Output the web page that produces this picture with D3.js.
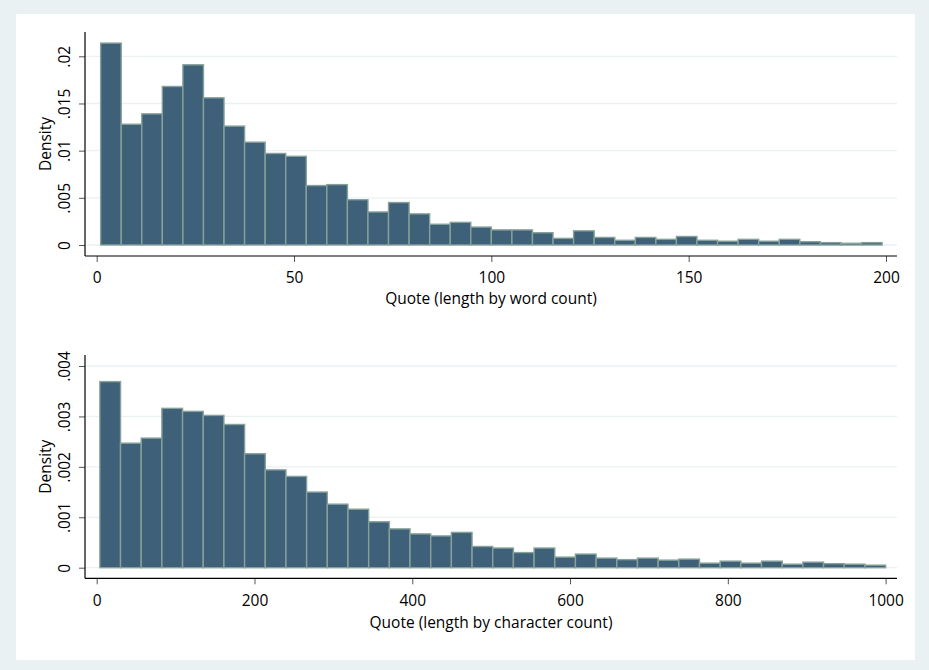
<!DOCTYPE html>
<html>
<head>
<meta charset="utf-8">
<script src="https://cdn.jsdelivr.net/npm/d3@7"></script>
<style>
  html, body { margin: 0; padding: 0; background: #eaf1f3; }
  svg { display: block; }
  text { font-family: "Open Sans", "Noto Sans", sans-serif; fill: #000; }
</style>
</head>
<body>
<svg id="chart" width="929" height="670"></svg>
<script>
// Histogram of quote length by word count (38 bins from 1 to 199)
const wordBinStart = 1;
const wordBinEnd = 199;
const wordDensity = [
  0.0214, 0.0128, 0.0139, 0.0168, 0.0191, 0.0156, 0.0126, 0.0109, 0.0097, 0.0094,
  0.0063, 0.0064, 0.0048, 0.0035, 0.0045, 0.0033, 0.0022, 0.0024, 0.0019, 0.0016,
  0.0016, 0.0013, 0.0007, 0.0015, 0.0008, 0.0005, 0.0008, 0.0006, 0.0009, 0.0005,
  0.0004, 0.0006, 0.0004, 0.0006, 0.00035, 0.00025, 0.00018, 0.00025
];
const wordXTicks = [0, 50, 100, 150, 200];
const wordYTicks = [0, 0.005, 0.01, 0.015, 0.02];
const wordYLabels = ["0", ".005", ".01", ".015", ".02"];

// Histogram of quote length by character count (38 bins from 4 to 1000)
const charBinStart = 4;
const charBinEnd = 1000;
const charDensity = [
  0.00369, 0.00247, 0.00257, 0.00316, 0.00310, 0.00302, 0.00284, 0.00226, 0.00194, 0.00181,
  0.00150, 0.00126, 0.00116, 0.00091, 0.00077, 0.00067, 0.00063, 0.00070, 0.00042, 0.00039,
  0.00030, 0.00039, 0.00021, 0.00027, 0.00019, 0.00016, 0.00019, 0.00015, 0.00017, 0.00009,
  0.00013, 0.00009, 0.00013, 0.00007, 0.00011, 0.00008, 0.00007, 0.00005
];
const charXTicks = [0, 200, 400, 600, 800, 1000];
const charYTicks = [0, 0.001, 0.002, 0.003, 0.004];
const charYLabels = ["0", ".001", ".002", ".003", ".004"];

const FONT_SIZE = 15.5;
const svg = d3.select("#chart");

// white graph region
svg.append("rect")
  .attr("x", 16).attr("y", 14)
  .attr("width", 899).attr("height", 646)
  .attr("fill", "#ffffff");

function drawHistogram(cfg) {
  const g = svg.append("g");
  const x = d3.scaleLinear().domain(cfg.xDomain).range(cfg.xRange);
  const y = d3.scaleLinear().domain(cfg.yDomain).range(cfg.yRange);

  const n = cfg.values.length;
  const width = (cfg.binEnd - cfg.binStart) / n;
  const bins = cfg.values.map((v, i) => ({
    x0: cfg.binStart + i * width,
    x1: cfg.binStart + (i + 1) * width,
    v
  }));

  // horizontal gridlines
  g.append("g").selectAll("line")
    .data(cfg.yTicks)
    .join("line")
    .attr("x1", cfg.axisLeft + 1).attr("x2", cfg.axisRight)
    .attr("y1", d => y(d)).attr("y2", d => y(d))
    .attr("stroke", "#eaf1f3").attr("stroke-width", 1.3);

  // bars
  g.append("g").selectAll("rect")
    .data(bins)
    .join("rect")
    .attr("x", d => x(d.x0))
    .attr("width", d => x(d.x1) - x(d.x0))
    .attr("y", d => y(d.v))
    .attr("height", d => y(0) - y(d.v))
    .attr("fill", "#3f6079")
    .attr("stroke", "#86a199")
    .attr("stroke-width", 1.4);

  // y axis
  const yAxis = d3.axisLeft(y)
    .tickValues(cfg.yTicks)
    .tickFormat((d, i) => cfg.yLabels[i])
    .tickSize(6)
    .tickPadding(0);
  const ya = g.append("g")
    .attr("transform", `translate(${cfg.axisLeft},0)`)
    .call(yAxis);
  ya.select(".domain").remove();
  ya.selectAll(".tick line").attr("stroke", "#555").attr("stroke-width", 1);
  ya.selectAll(".tick text")
    .attr("x", null).attr("dy", null)
    .attr("transform", "translate(-15,0) rotate(-90)")
    .attr("text-anchor", "middle")
    .attr("font-size", FONT_SIZE)
    .style("font-family", "'Open Sans', sans-serif");
  g.append("line")
    .attr("x1", cfg.axisLeft).attr("x2", cfg.axisLeft)
    .attr("y1", cfg.axisTop).attr("y2", cfg.axisBottom)
    .attr("stroke", "#000").attr("stroke-width", 1.2);

  // x axis
  const xAxis = d3.axisBottom(x)
    .tickValues(cfg.xTicks)
    .tickFormat(d3.format("d"))
    .tickSize(6)
    .tickPadding(cfg.xPad);
  const xa = g.append("g")
    .attr("transform", `translate(0,${cfg.axisBottom})`)
    .call(xAxis);
  xa.select(".domain").remove();
  xa.selectAll(".tick line").attr("stroke", "#555").attr("stroke-width", 1);
  xa.selectAll(".tick text")
    .attr("font-size", FONT_SIZE)
    .style("font-family", "'Open Sans', sans-serif");
  g.append("line")
    .attr("x1", cfg.axisLeft).attr("x2", cfg.axisRight)
    .attr("y1", cfg.axisBottom).attr("y2", cfg.axisBottom)
    .attr("stroke", "#000").attr("stroke-width", 1.2);

  // axis titles
  g.append("text")
    .attr("transform", `translate(51,${(cfg.axisTop + cfg.axisBottom) / 2}) rotate(-90)`)
    .attr("text-anchor", "middle")
    .attr("font-size", FONT_SIZE)
    .text("Density");
  g.append("text")
    .attr("x", (cfg.axisLeft + cfg.axisRight) / 2)
    .attr("y", cfg.axisBottom + cfg.titleGap)
    .attr("text-anchor", "middle")
    .attr("font-size", FONT_SIZE)
    .text(cfg.xTitle);
}

drawHistogram({
  values: wordDensity,
  binStart: wordBinStart, binEnd: wordBinEnd,
  xDomain: [0, 200], xRange: [96.7, 886],
  yDomain: [0, 0.02], yRange: [245, 56.3],
  axisLeft: 85, axisRight: 897, axisTop: 32, axisBottom: 256,
  xPad: 10, titleGap: 48,
  xTicks: wordXTicks, yTicks: wordYTicks, yLabels: wordYLabels,
  xTitle: "Quote (length by word count)"
});

drawHistogram({
  values: charDensity,
  binStart: charBinStart, binEnd: charBinEnd,
  xDomain: [0, 1000], xRange: [96.7, 885.6],
  yDomain: [0, 0.004], yRange: [567.7, 366],
  axisLeft: 85, axisRight: 897, axisTop: 355, axisBottom: 578.3,
  xPad: 11, titleGap: 49.5,
  xTicks: charXTicks, yTicks: charYTicks, yLabels: charYLabels,
  xTitle: "Quote (length by character count)"
});
</script>
</body>
</html>
